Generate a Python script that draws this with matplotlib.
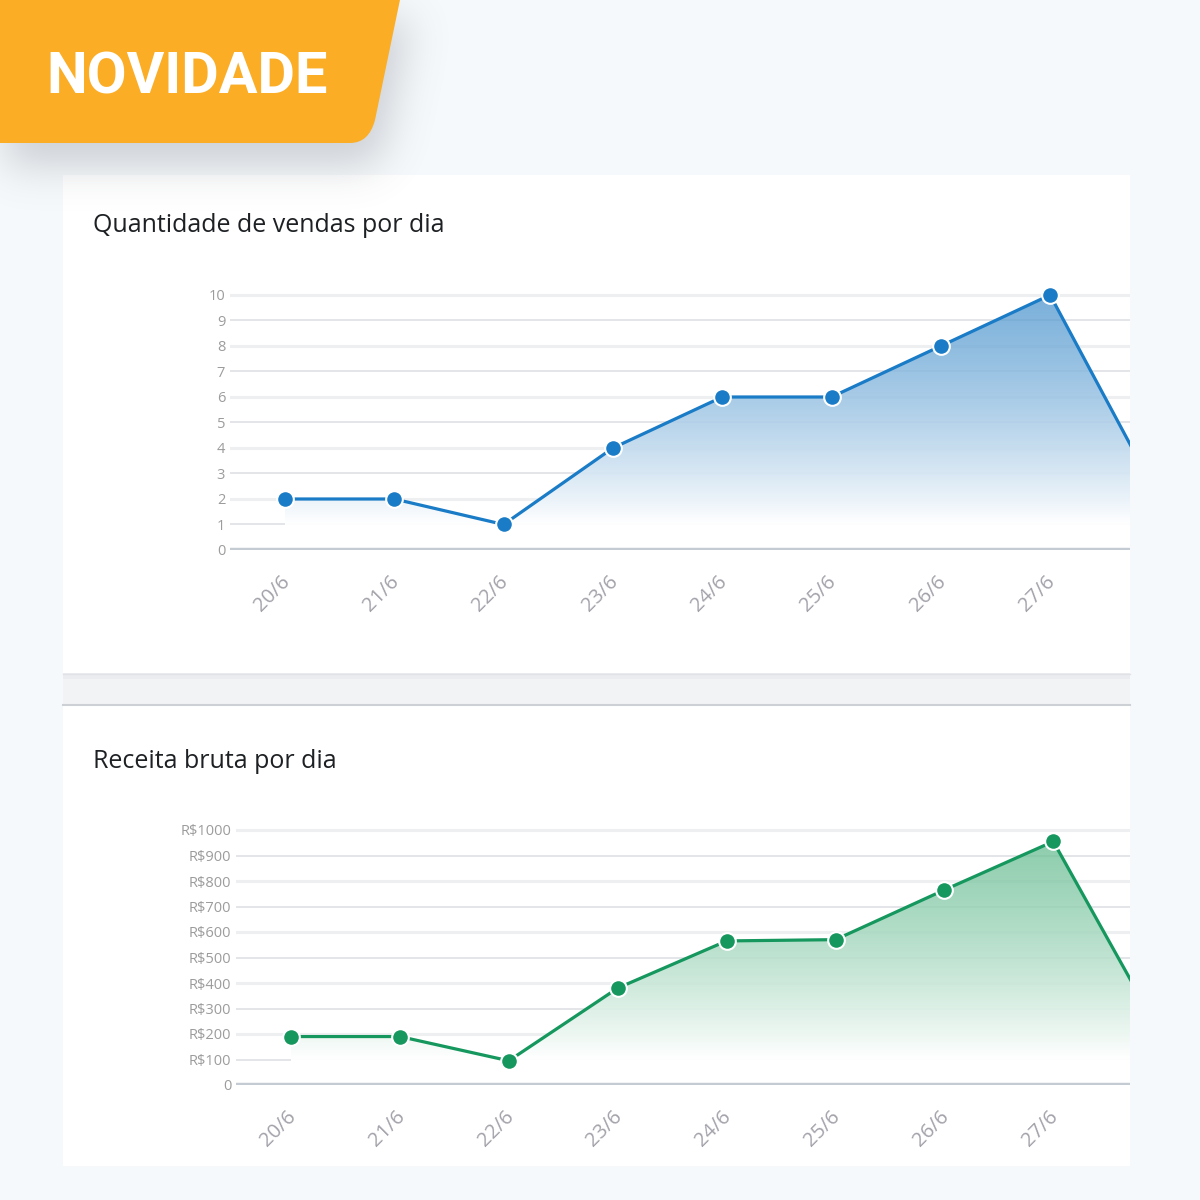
import numpy as np
import matplotlib
matplotlib.use('Agg')
import matplotlib.pyplot as plt
from matplotlib.patches import Polygon, Rectangle, PathPatch
from matplotlib.path import Path
from matplotlib.transforms import ScaledTranslation

# ---------------- data ----------------
dates = ['20/6', '21/6', '22/6', '23/6', '24/6', '25/6', '26/6', '27/6', '28/6']
vendas = [2, 2, 1, 4, 6, 6, 8, 10, 2]
receita = [190, 190, 95, 380, 565, 570, 765, 955, 190]
vendas_ticks = list(range(0, 11))
vendas_tick_labels = [str(v) for v in vendas_ticks]
receita_ticks = list(range(0, 1001, 100))
receita_tick_labels = ['0'] + ['R$' + str(v) for v in receita_ticks[1:]]
title_vendas = 'Quantidade de vendas por dia'
title_receita = 'Receita bruta por dia'
badge_text = 'NOVIDADE'

W = H = 1200
BG = '#f6f9fb'
fig = plt.figure(figsize=(12, 12), dpi=100)
fig.patch.set_facecolor(BG)

# background "canvas" axes in pixel coordinates
bg = fig.add_axes([0, 0, 1, 1])
bg.set_xlim(0, W)
bg.set_ylim(H, 0)
bg.axis('off')
bg.set_zorder(0)

# cards
bg.add_patch(Rectangle((63, 175), 1067, 498, fc='white', ec='none', zorder=1))
bg.add_patch(Rectangle((63, 673), 1067, 32, fc='#f1f3f5', ec='none', zorder=1))
bg.add_patch(Rectangle((63, 673), 1067, 6, fc='#eaecef', ec='none', zorder=1))
bg.plot([63, 1130], [673.5, 673.5], color='#e0e2e6', lw=1.0, zorder=2)
bg.plot([63, 1130], [704.5, 704.5], color='#cdd1d6', lw=1.5, zorder=2)
bg.add_patch(Rectangle((63, 705.5), 1067, 460, fc='white', ec='none', zorder=1))

# banner shape
verts = [(-5, -5), (401, -5), (375, 120), (369, 143), (350, 143), (-5, 143), (-5, -5)]
codes = [Path.MOVETO, Path.LINETO, Path.LINETO, Path.CURVE3, Path.CURVE3, Path.LINETO, Path.CLOSEPOLY]
banner_path = Path(verts, codes)

# soft shadow (blurred mask)
sw, shh = 640, 330
gx, gy = np.meshgrid(np.arange(sw) + 0.5, np.arange(shh) + 0.5)
pts = np.column_stack([gx.ravel() - 10, gy.ravel() - 24])
mask = banner_path.contains_points(pts).reshape(shh, sw).astype(float)
sig = 20.0
kx = np.arange(-60, 61)
kern = np.exp(-kx ** 2 / (2 * sig ** 2))
kern /= kern.sum()
blur = np.apply_along_axis(lambda r: np.convolve(r, kern, mode='same'), 1, mask)
blur = np.apply_along_axis(lambda c: np.convolve(c, kern, mode='same'), 0, blur)
shadow = np.zeros((shh, sw, 4))
shadow[..., :3] = np.array([110, 118, 130]) / 255.0
shadow[..., 3] = blur * 0.30
bg.imshow(shadow, extent=[0, sw, shh, 0], origin='upper', interpolation='bilinear',
          zorder=3, aspect='auto')
bg.set_xlim(0, W)
bg.set_ylim(H, 0)

bg.add_patch(PathPatch(banner_path, fc='#fbad26', ec='none', zorder=4))
bg.text(46, 94, badge_text, color='white', fontsize=41.5, fontweight='bold',
        family=['Roboto', 'DejaVu Sans'], va='baseline', ha='left', zorder=5)

# titles
bg.text(93, 232, title_vendas, fontsize=18, family=['Open Sans', 'DejaVu Sans'],
        color='#1e2124', va='baseline', ha='left', zorder=5)
bg.text(93, 768, title_receita, fontsize=18, family=['Open Sans', 'DejaVu Sans'],
        color='#1e2124', va='baseline', ha='left', zorder=5)


def chart(L, R, x0, sp, Y0, u, vtop, values, ticks, tick_labels,
          line_color, fill_rgb, a_top, lo, hi):
    ax = fig.add_axes([L / W, 1 - Y0 / H, (R - L) / W, vtop * u / H])
    ax.set_zorder(2)
    ax.patch.set_alpha(0)
    for s in ax.spines.values():
        s.set_visible(False)
    x = np.arange(len(values))
    xl = ((L - x0) / sp, (R - x0) / sp)

    # grid
    for i, t in enumerate(ticks):
        if t == 0:
            continue
        if (len(ticks) - 1 - i) % 2 == 0:
            ax.axhline(t, color='#eeeff1', lw=2.2, zorder=1)
        else:
            ax.axhline(t, color='#dcdee1', lw=1.1, zorder=1)
    ax.axhline(0, color='#c5cbd2', lw=3.2, zorder=3)

    # gradient fill
    ny = 500
    v = np.linspace(0, vtop, ny)
    tt = np.clip((v - lo) / (hi - lo), 0, 1)[:, None]
    base = np.array(fill_rgb) / 255.0
    rgb = (1 - tt) * np.ones(3) + tt * base
    alpha = 1 - (1 - a_top) * tt
    img = np.concatenate([rgb, alpha], axis=1)[:, None, :]
    im = ax.imshow(img, extent=[xl[0], xl[1], 0, vtop], origin='lower',
                   aspect='auto', interpolation='bilinear', zorder=2)
    poly = Polygon([(x[0], 0)] + list(zip(x, values)) + [(x[-1], 0)], closed=True,
                   transform=ax.transData, fc='none', ec='none')
    im.set_clip_path(poly)

    ax.plot(x, values, color=line_color, lw=2.3, zorder=4, solid_joinstyle='round')
    ax.plot(x, values, 'o', ms=12, mfc=line_color, mec='white', mew=1.5, zorder=5)

    ax.set_xlim(*xl)
    ax.set_ylim(0, vtop)
    ax.set_yticks(ticks)
    ax.set_yticklabels(tick_labels)
    ax.tick_params(axis='y', length=0, pad=3.5, labelsize=10.5, labelcolor='#9c9c9c')
    for lab in ax.get_yticklabels():
        lab.set_family(['Open Sans', 'DejaVu Sans'])
    ax.set_xticks([])
    off = ScaledTranslation(9 / 100, -22 / 100, fig.dpi_scale_trans)
    for xi, d in zip(x, dates):
        if xi > xl[1]:
            continue
        ax.text(xi, 0, d, rotation=45, ha='right', va='top', fontsize=14.5,
                color='#a3a2aa', family=['Open Sans', 'DejaVu Sans'],
                transform=ax.transData + off, clip_on=False)
    return ax


chart(230, 1130, 285, 109.3, 550, 25.5, 10.6, vendas, vendas_ticks, vendas_tick_labels,
      '#1a7bc6', (70, 145, 204), 0.72, 1.0, 10.0)
chart(236, 1130, 291, 108.9, 1085, 0.255, 1060, receita, receita_ticks, receita_tick_labels,
      '#15975e', (92, 184, 138), 0.72, 100, 1000)

fig.savefig('out.png', dpi=100, facecolor=BG)
